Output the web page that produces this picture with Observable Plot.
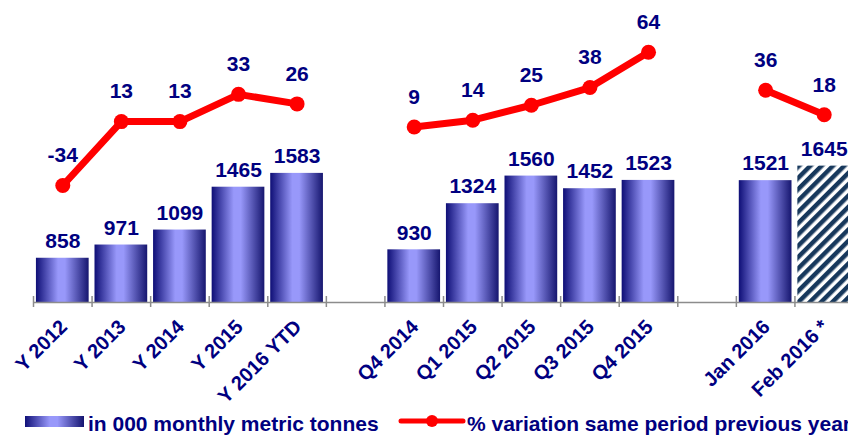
<!DOCTYPE html>
<html><head><meta charset="utf-8">
<script src="https://cdn.jsdelivr.net/npm/d3@7"></script>
<script src="https://cdn.jsdelivr.net/npm/@observablehq/plot@0.6"></script>
<style>
body{margin:0;background:#fff;font-family:Arial,"Liberation Sans",sans-serif;}
#wrap{position:relative;width:848px;height:412px;overflow:hidden}
#wrap svg{position:absolute;left:0;top:0}
#legend{position:relative;width:848px;height:25px;overflow:hidden;color:#000080;font-weight:bold;font-size:21px;line-height:22px}
#legend .sw{position:absolute;left:25px;top:4px;width:59px;height:11px;background:linear-gradient(to right,#101078 0%,#9898fa 42%,#9898fa 55%,#141470 100%)}
#legend .t1{position:absolute;left:88px;top:1px;white-space:nowrap}
#legend .t2{position:absolute;left:467px;top:1px;white-space:nowrap}
#legend svg{position:absolute;left:398px;top:1px}
</style></head><body>
<div id="wrap"></div>
<div id="legend"><div class="sw"></div><span class="t1">in 000 monthly metric tonnes</span>
<svg width="68" height="16"><line x1="3" y1="8" x2="65" y2="8" stroke="#ff0000" stroke-width="5" stroke-linecap="round"/><circle cx="34" cy="8" r="6" fill="#ff0000"/></svg>
<span class="t2">% variation same period previous year</span></div>
<script>
// slots on the category axis ("" and "  " are empty gap slots)
const xSlots = ["Y 2012","Y 2013","Y 2014","Y 2015","Y 2016 YTD","","Q4 2014","Q1 2015","Q2 2015","Q3 2015","Q4 2015","  ","Jan 2016","Feb 2016 *"];
const categories = ["Y 2012","Y 2013","Y 2014","Y 2015","Y 2016 YTD","Q4 2014","Q1 2015","Q2 2015","Q3 2015","Q4 2015","Jan 2016","Feb 2016 *"];
const tonnes = [858,971,1099,1465,1583,930,1324,1560,1452,1523,1521,1645];
const variation = [-34,13,13,33,26,9,14,25,38,64,36,18];
const groups = ["year","year","year","year","year","quarter","quarter","quarter","quarter","quarter","month","month"];
const estimated = ["Feb 2016 *"];

const rows = categories.map((c,i) => ({cat:c, t:tonnes[i], v:variation[i], g:groups[i], est: estimated.includes(c)}));

const W = 848, H = 412, ML = 33, MR = -5, MT = 0, MB = 110;
const yBase = 480;
const xOpts = {type:"band", domain:xSlots, paddingInner:0.1, paddingOuter:0.05, round:false};
const xs = Plot.scale({x:{...xOpts, range:[ML, W-MR]}});
const step = xs.step;
const navy = "#000080";
const fontCss = {fontFamily:"Arial, 'Liberation Sans', sans-serif", fontSize:"19px", fontWeight:"bold", color:navy, background:"transparent"};

const bars = Plot.plot({
  width:W, height:H, marginLeft:ML, marginRight:MR, marginTop:MT, marginBottom:MB,
  style:fontCss,
  x:{...xOpts, axis:null},
  y:{domain:[yBase,3060], axis:null},
  marks:[
    Plot.barY(rows.filter(d=>!d.est), {x:"cat", y1:yBase, y2:"t", fill:"url(#barGrad)"}),
    Plot.barY(rows.filter(d=>d.est), {x:"cat", y1:yBase, y2:"t", fill:"url(#hatch)"}),
    Plot.ruleY([yBase], {stroke:"#8c8c8c", strokeWidth:1.5}),
    Plot.ruleX(xSlots, {x:d=>d, dx:-step/2, dy:5, insetTop:H-MB-MT-11, stroke:"#8c8c8c", strokeWidth:1.5}),
    Plot.text(categories, {x:d=>d, frameAnchor:"bottom", text:d=>d, rotate:-45, textAnchor:"end", lineAnchor:"middle", dx:1, dy:21, fill:navy, fontSize:20, fontWeight:"bold"}),
    Plot.text(rows, {x:"cat", y:"t", text:d=>String(d.t), dy:-17, fill:navy, fontSize:21, fontWeight:"bold"})
  ]
});
const defs = d3.select(bars).insert("defs", ":first-child");
const g = defs.append("linearGradient").attr("id","barGrad").attr("x1","0").attr("x2","1").attr("y1","0").attr("y2","0");
[[0,"#0e0e76"],[0.42,"#9898fa"],[0.55,"#9898fa"],[1,"#16166f"]].forEach(([o,c]) => g.append("stop").attr("offset",o).attr("stop-color",c));
const p = defs.append("pattern").attr("id","hatch").attr("patternUnits","userSpaceOnUse").attr("width",8).attr("height",8).attr("patternTransform","rotate(45)");
p.append("rect").attr("width",8).attr("height",8).attr("fill","#ffffff");
p.append("rect").attr("width",4.5).attr("height",8).attr("fill","#17385c");

const line = Plot.plot({
  width:W, height:H, marginLeft:ML, marginRight:MR, marginTop:MT, marginBottom:MB,
  style:fontCss,
  x:{...xOpts, axis:null},
  y:{domain:[-120,102], axis:null},
  marks:[
    Plot.line(rows, {x:"cat", y:"v", z:"g", stroke:"#ff0000", strokeWidth:7}),
    Plot.dot(rows, {x:"cat", y:"v", r:7.5, fill:"#ff0000"}),
    Plot.text(rows, {x:"cat", y:"v", text:d=>String(d.v), dy:-30, fill:navy, fontSize:21, fontWeight:"bold"})
  ]
});
document.getElementById("wrap").append(bars, line);
</script>
</body></html>
